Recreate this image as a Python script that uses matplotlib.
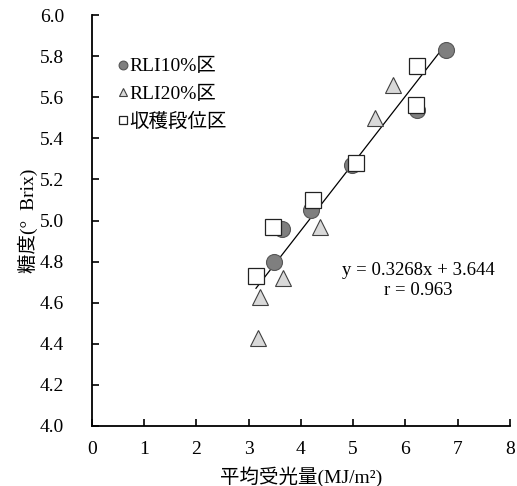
import matplotlib
matplotlib.use("Agg")
import matplotlib.pyplot as plt
import numpy as np

FAM = ['Liberation Serif', 'Noto Sans CJK JP']
plt.rcParams['font.family'] = FAM

# data
rli10_x = [6.78, 6.22, 4.97, 4.20, 3.63, 3.49]
rli10_y = [5.83, 5.54, 5.27, 5.05, 4.96, 4.80]
rli20_x = [5.77, 5.42, 4.36, 3.66, 3.22, 3.17]
rli20_y = [5.66, 5.50, 4.97, 4.72, 4.63, 4.43]
harv_x = [6.23, 6.21, 5.05, 4.24, 3.47, 3.14]
harv_y = [5.75, 5.56, 5.28, 5.10, 4.97, 4.73]
slope, intercept = 0.3268, 3.644
series_labels = ['RLI10%区', 'RLI20%区', '収穫段位区']
xticks = list(range(0, 9))
yticks = [4.0, 4.2, 4.4, 4.6, 4.8, 5.0, 5.2, 5.4, 5.6, 5.8, 6.0]

fig = plt.figure(figsize=(5.17, 4.86), dpi=100)
ax = fig.add_axes([0.178, 0.1235, 0.808, 0.8455])

allx = rli10_x + rli20_x + harv_x
xl = np.array([min(allx), max(allx)])
ax.plot(xl, slope * xl + intercept, color='black', lw=0.9, zorder=1)

ms = 11.5
h1, = ax.plot(rli10_x, rli10_y, 'o', ms=ms, mfc='#7f7f7f', mec='#555555', mew=0.8, label=series_labels[0], zorder=3)
h2, = ax.plot(rli20_x, rli20_y, '^', ms=ms, mfc='#d9d9d9', mec='#404040', mew=0.8, label=series_labels[1], zorder=3)
h3, = ax.plot(harv_x, harv_y, 's', ms=ms, mfc='white', mec='#222222', mew=0.9, label=series_labels[2], zorder=4)

ax.set_xlim(0, 8)
ax.set_ylim(4.0, 6.0)
ax.set_xticks(xticks)
ax.set_yticks(yticks)
ax.set_yticklabels([f'{v:.1f}' for v in yticks])
ax.tick_params(direction='in', length=5, width=1.2, labelsize=14)
ax.tick_params(axis='y', pad=20)
ax.tick_params(axis='x', pad=11)
for s in ['top', 'right']:
    ax.spines[s].set_visible(False)
for s in ['left', 'bottom']:
    ax.spines[s].set_linewidth(1.3)

ax.set_xlabel('平均受光量(MJ/m²)', fontsize=14, labelpad=6, family=FAM)
ax.set_ylabel('糖度(°  Brix)', fontsize=14, labelpad=1, family=FAM)

leg = ax.legend(handles=[h1, h2, h3], loc='upper left', bbox_to_anchor=(0.045, 0.915),
                frameon=False, markerscale=0.55, handlelength=0.45, handletextpad=0.1,
                labelspacing=0.5, prop={'family': FAM, 'size': 14}, borderaxespad=0)

ax.text(0.782, 0.354, 'y = 0.3268x + 3.644\nr = 0.963', transform=ax.transAxes,
        ha='center', va='center', fontsize=13.5, linespacing=1.2, family=FAM)

fig.savefig('out.png', dpi=100)
